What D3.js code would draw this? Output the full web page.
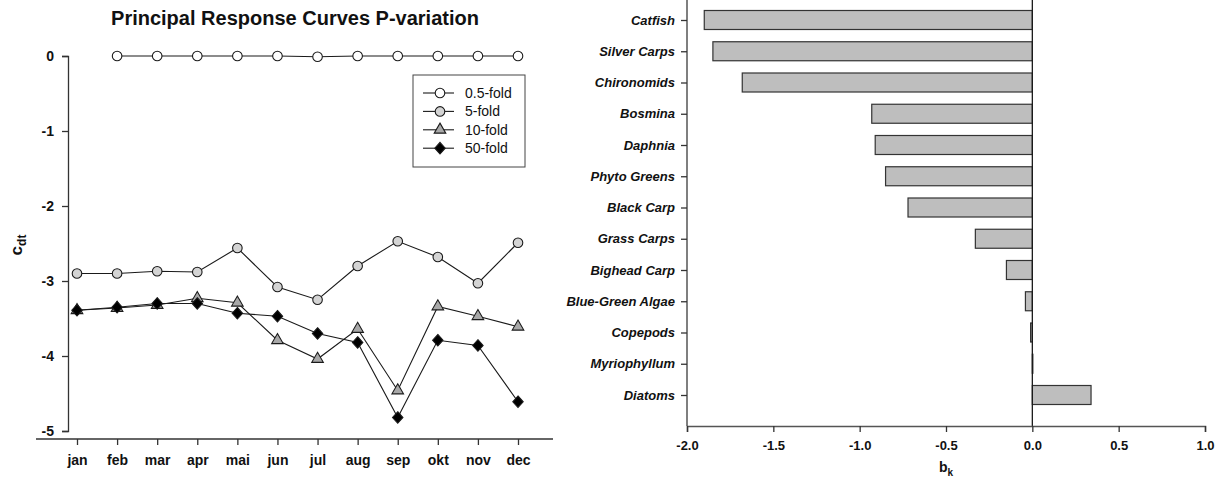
<!DOCTYPE html>
<html><head><meta charset="utf-8">
<script src="https://cdn.jsdelivr.net/npm/d3@7"></script>
<style>
body{margin:0;background:#fff;}
svg{display:block;font-family:"Liberation Sans",Arial,sans-serif;}
</style></head>
<body><svg id="c" width="1220" height="483"></svg>
<script>
const months = ["jan","feb","mar","apr","mai","jun","jul","aug","sep","okt","nov","dec"];
const fold05 = [null,0,0,0,0,0,-0.01,0,0,0,0,0];
const fold5  = [-2.90,-2.90,-2.87,-2.88,-2.56,-3.08,-3.25,-2.80,-2.47,-2.68,-3.03,-2.49];
const fold10 = [-3.39,-3.36,-3.32,-3.23,-3.29,-3.79,-4.04,-3.64,-4.46,-3.34,-3.47,-3.61];
const fold50 = [-3.39,-3.35,-3.30,-3.30,-3.43,-3.47,-3.70,-3.82,-4.82,-3.79,-3.86,-4.61];
const yTicks = [0,-1,-2,-3,-4,-5];

const taxa = ["Catfish","Silver Carps","Chironomids","Bosmina","Daphnia","Phyto Greens","Black Carp","Grass Carps","Bighead Carp","Blue-Green Algae","Copepods","Myriophyllum","Diatoms"];
const bk = [-1.90,-1.85,-1.68,-0.93,-0.91,-0.85,-0.72,-0.33,-0.15,-0.04,-0.01,0.003,0.34];
const bTicks = [-2.0,-1.5,-1.0,-0.5,0.0,0.5,1.0];

const svg = d3.select("#c");

// ---------- Left chart ----------
const x = d3.scalePoint().domain(months).range([77,518]);
const y = d3.scaleLinear().domain([-5,0]).range([431,56]);

svg.append("text").attr("x",295).attr("y",25).attr("text-anchor","middle")
  .attr("font-size",20).attr("font-weight","bold").attr("fill","#111")
  .text("Principal Response Curves P-variation");

const ya = svg.append("g").attr("transform","translate(68,0)")
  .call(d3.axisLeft(y).tickValues(yTicks).tickFormat(d=>String(d)).tickSizeOuter(0).tickSize(6).tickPadding(8));
ya.select(".domain").attr("stroke","#333").attr("stroke-width",1.3);
ya.selectAll(".tick line").attr("stroke","#333").attr("stroke-width",1.3);
ya.selectAll(".tick text").attr("font-size",14).attr("font-weight","bold").attr("fill","#111")
  .attr("font-family","Liberation Sans, Arial, sans-serif");

const xa = svg.append("g").attr("transform","translate(0,439)")
  .call(d3.axisBottom(x).tickSizeOuter(0).tickSize(6).tickPadding(10));
xa.select(".domain").attr("d",`M${x(months[0])-41},0H${x(months[11])+35}`).attr("stroke","#333").attr("stroke-width",1.3);
xa.selectAll(".tick line").attr("stroke","#333").attr("stroke-width",1.3);
xa.selectAll(".tick text").attr("font-size",14).attr("font-weight","bold").attr("fill","#111")
  .attr("font-family","Liberation Sans, Arial, sans-serif");

const ylab = svg.append("text").attr("transform","translate(22,245) rotate(-90)")
  .attr("text-anchor","middle").attr("font-weight","bold").attr("fill","#111");
ylab.append("tspan").attr("font-size",17).text("c");
ylab.append("tspan").attr("font-size",12).attr("dy",4).text("dt");

const series = [
  {name:"0.5-fold", data:fold05, shape:"circle", fill:"#ffffff"},
  {name:"5-fold", data:fold5, shape:"circle", fill:"#d4d4d4"},
  {name:"10-fold", data:fold10, shape:"triangle", fill:"#a8a8a8"},
  {name:"50-fold", data:fold50, shape:"diamond", fill:"#000000"}
];
const line = d3.line().defined(d=>d.v!==null).x(d=>x(d.m)).y(d=>y(d.v));
function markerPath(s){
  if(s.shape==="circle") return d3.symbol(d3.symbolCircle, 72)();
  if(s.shape==="triangle") return d3.symbol(d3.symbolTriangle, 58)();
  return "M0,-5.8L5.2,0L0,5.8L-5.2,0Z";
}
series.forEach(s=>{
  const pts = s.data.map((v,i)=>({m:months[i],v}));
  svg.append("path").datum(pts).attr("d",line).attr("fill","none").attr("stroke","#1a1a1a").attr("stroke-width",1.1);
  svg.append("g").selectAll("path").data(pts.filter(p=>p.v!==null)).join("path")
    .attr("d",markerPath(s))
    .attr("transform",p=>`translate(${x(p.m)},${y(p.v)})`)
    .attr("fill",s.fill).attr("stroke","#1a1a1a").attr("stroke-width",1.1);
});

// legend
const lg = svg.append("g");
lg.append("rect").attr("x",413).attr("y",75).attr("width",112).attr("height",92)
  .attr("fill","#fff").attr("stroke","#444").attr("stroke-width",1);
series.forEach((s,i)=>{
  const yy = 93 + i*18.4;
  lg.append("line").attr("x1",423).attr("x2",454).attr("y1",yy).attr("y2",yy).attr("stroke","#1a1a1a").attr("stroke-width",1.1);
  lg.append("path").attr("d",markerPath(s)).attr("transform",`translate(440,${yy})`)
    .attr("fill",s.fill).attr("stroke","#1a1a1a").attr("stroke-width",1.1);
  lg.append("text").attr("x",465).attr("y",yy+5).attr("font-size",14).attr("fill","#111").text(s.name);
});

// ---------- Right chart ----------
const bx = d3.scaleLinear().domain([-2,1]).range([687,1205]);
const by = d3.scalePoint().domain(taxa).range([20,395]);
const barH = 19;

svg.append("g").selectAll("rect").data(taxa).join("rect")
  .attr("x",(d,i)=>Math.min(bx(0),bx(bk[i])))
  .attr("width",(d,i)=>Math.max(0.5,Math.abs(bx(bk[i])-bx(0))))
  .attr("y",d=>by(d)-barH/2).attr("height",barH)
  .attr("fill","#bebebe").attr("stroke","#333").attr("stroke-width",1.2);

svg.append("line").attr("x1",bx(0)).attr("x2",bx(0)).attr("y1",0).attr("y2",426)
  .attr("stroke","#1a1a1a").attr("stroke-width",1.3);

const bya = svg.append("g").attr("transform",`translate(${bx(-2)},0)`)
  .call(d3.axisLeft(by).tickSizeOuter(0).tickSize(6).tickPadding(6));
bya.select(".domain").attr("d","M0,0V426").attr("stroke","#555").attr("stroke-width",1.5);
bya.selectAll(".tick line").attr("stroke","#333").attr("stroke-width",1.3);
bya.selectAll(".tick text").attr("font-size",13).attr("font-weight","bold").attr("font-style","italic")
  .attr("fill","#111").attr("font-family","Liberation Sans, Arial, sans-serif");

const bxa = svg.append("g").attr("transform","translate(0,426)")
  .call(d3.axisBottom(bx).tickValues(bTicks).tickFormat(d=>d.toFixed(1)).tickSizeOuter(0).tickSize(6).tickPadding(9));
bxa.select(".domain").attr("stroke","#555").attr("stroke-width",1.5);
bxa.selectAll(".tick line").attr("stroke","#333").attr("stroke-width",1.3);
bxa.selectAll(".tick text").attr("font-size",13).attr("font-weight","bold").attr("fill","#111")
  .attr("font-family","Liberation Sans, Arial, sans-serif");

const blab = svg.append("text").attr("x",(bx(-2)+bx(1))/2).attr("y",472).attr("text-anchor","middle")
  .attr("font-weight","bold").attr("fill","#111");
blab.append("tspan").attr("font-size",14).text("b");
blab.append("tspan").attr("font-size",10).attr("dy",4).text("k");
</script></body></html>
